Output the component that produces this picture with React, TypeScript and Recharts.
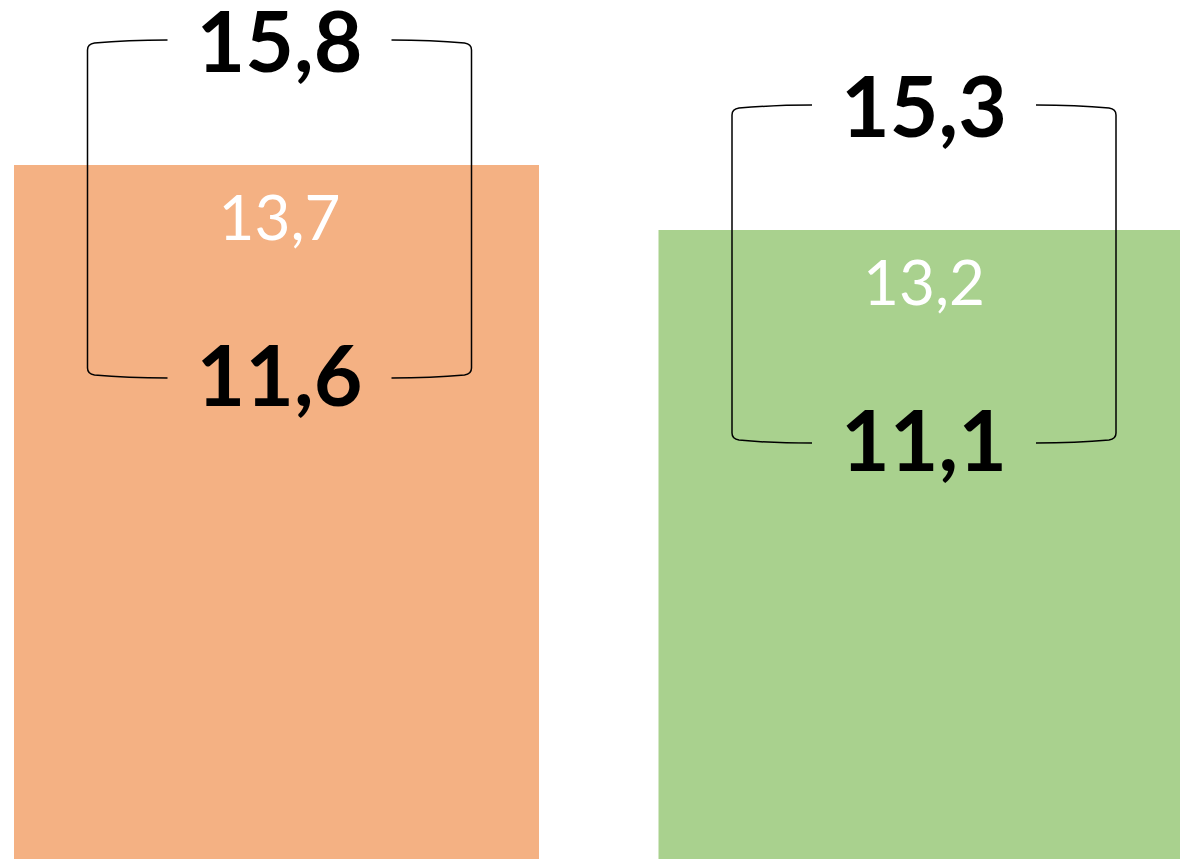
import { Bar, BarChart, Rectangle, XAxis, YAxis } from "recharts";

const groups = ["Groupe 1", "Groupe 2"];
const means = [13.7, 13.2];
const lows = [11.6, 11.1];
const highs = [15.8, 15.3];
const COLORS = ["#F4B183", "#A9D18E"];

const data = groups.map((name, i) => ({
  name,
  mean: means[i],
  low: lows[i],
  high: highs[i],
}));

const fmt = (v: number) => v.toFixed(1).replace(".", ",");

const FONT = "Lato, 'Noto Sans', sans-serif";

// bar + bracket with min / max around the mean label
const BracketBar = (props: any) => {
  const { x, y, width, height, index, payload } = props;
  const cx = x + width / 2;
  const tx = cx + 3;
  const top = y - 125;
  const bot = y + 213;
  const xl = cx - 189;
  const xr = cx + 195;
  const gl = tx - 112;
  const gr = tx + 112;
  const left = `M ${gl} ${top} Q ${(gl + xl) / 2} ${top} ${xl + 7} ${top + 3} Q ${xl} ${top + 4} ${xl} ${top + 10} L ${xl} ${bot - 10} Q ${xl} ${bot - 4} ${xl + 7} ${bot - 3} Q ${(gl + xl) / 2} ${bot} ${gl} ${bot}`;
  const right = `M ${gr} ${top} Q ${(gr + xr) / 2} ${top} ${xr - 7} ${top + 3} Q ${xr} ${top + 4} ${xr} ${top + 10} L ${xr} ${bot - 10} Q ${xr} ${bot - 4} ${xr - 7} ${bot - 3} Q ${(gr + xr) / 2} ${bot} ${gr} ${bot}`;
  return (
    <g>
      <Rectangle x={x} y={y} width={width} height={height} fill={COLORS[index % COLORS.length]} />
      <path d={left} fill="none" stroke="#000" strokeWidth={1.5} />
      <path d={right} fill="none" stroke="#000" strokeWidth={1.5} />
      <text x={tx} y={y - 93} textAnchor="middle" fontFamily={FONT} fontWeight={700} fontSize={84} fill="#000">
        {fmt(payload.high)}
      </text>
      <text x={tx} y={y + 75} textAnchor="middle" fontFamily={FONT} fontWeight={400} fontSize={62} fill="#fff">
        {fmt(payload.mean)}
      </text>
      <text x={tx} y={y + 241} textAnchor="middle" fontFamily={FONT} fontWeight={700} fontSize={84} fill="#000">
        {fmt(payload.low)}
      </text>
    </g>
  );
};

export default function App() {
  return (
    <div style={{ position: "absolute", left: 0, top: 0, width: 1180, height: 859, overflow: "hidden", background: "#fff" }}>
      <div style={{ position: "absolute", left: -46, top: 0 }}>
        <BarChart
          width={1289}
          height={859}
          data={data}
          margin={{ top: 0, right: 0, bottom: 0, left: 0 }}
          barCategoryGap={60}
        >
          <XAxis dataKey="name" hide />
          <YAxis hide type="number" domain={[8.362, 14.97]} allowDataOverflow />
          <Bar dataKey="mean" isAnimationActive={false} shape={<BracketBar />} />
        </BarChart>
      </div>
    </div>
  );
}
